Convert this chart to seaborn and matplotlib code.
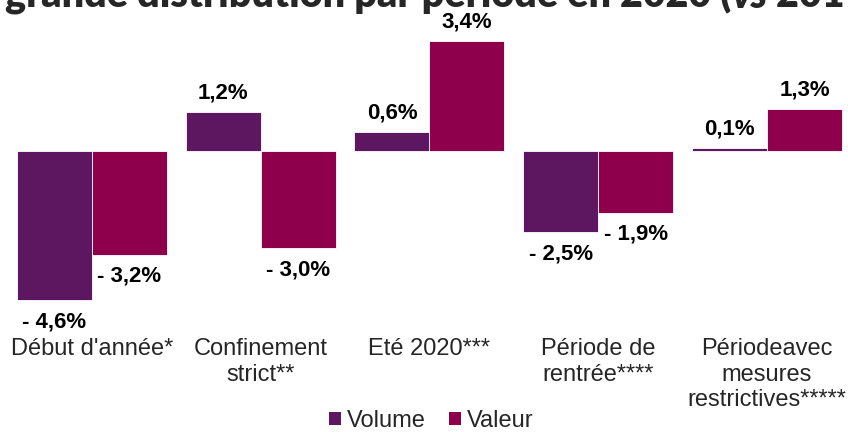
import pandas as pd
import seaborn as sns
import matplotlib
matplotlib.use("Agg")
from matplotlib import pyplot as plt
from matplotlib.patches import Patch

periodes = ["Début d'année*", "Confinement\nstrict**", "Eté 2020***",
            "Période de\nrentrée****", "Périodeavec\nmesures\nrestrictives*****"]
volume = [-4.6, 1.2, 0.6, -2.5, 0.1]
valeur = [-3.2, -3.0, 3.4, -1.9, 1.3]
series = ["Volume", "Valeur"]
couleurs = ["#5C1760", "#8F004C"]

sns.set_style("white")
plt.rcParams['font.family'] = ['Liberation Sans', 'DejaVu Sans']

df = pd.DataFrame({
    'periode': periodes * 2,
    'evolution': volume + valeur,
    'serie': [series[0]] * len(periodes) + [series[1]] * len(periodes),
})

fig = plt.figure(figsize=(8.48, 4.32), dpi=100)
ax = fig.add_axes([7.6 / 848, 102 / 432, 843.75 / 848, 330 / 432])

sns.barplot(data=df, x='periode', y='evolution', hue='serie', order=periodes,
            hue_order=series, palette=couleurs, saturation=1, width=0.889,
            edgecolor='white', linewidth=0.6, legend=False, ax=ax)

def fmt(v):
    s = f"{abs(v):.1f}".replace('.', ',') + "%"
    return "- " + s if v < 0 else s

# étiquettes : un peu plus d'écart sous les barres négatives
for cont, vals in zip(ax.containers, [volume, valeur]):
    ax.bar_label(cont, labels=[fmt(v) if v >= 0 else "" for v in vals], padding=6,
                 fontsize=16, fontweight='bold', color='black')
    ax.bar_label(cont, labels=[fmt(v) if v < 0 else "" for v in vals], padding=8,
                 fontsize=16, fontweight='bold', color='black')

ax.set_xlim(-0.5, 4.5)
ax.set_ylim(-5.525, 4.66)
ax.set_xlabel("")
ax.set_ylabel("")
ax.set_yticks([])
ax.tick_params(axis='x', length=0, pad=6, labelsize=17)
sns.despine(ax=ax, left=True, bottom=True, top=True, right=True)

handles = [Patch(facecolor=c, edgecolor='none') for c in couleurs]
fig.legend(handles, series, loc='center', bbox_to_anchor=(431 / 848, 11 / 432),
           ncol=2, frameon=False, fontsize=17, handlelength=0.5, handleheight=0.5,
           handletextpad=0.25, columnspacing=1.0, borderpad=0)

# titre coupé en haut, comme dans l'original
titre_kw = dict(fontsize=28.4, fontweight='heavy', family=['Lato', 'DejaVu Sans'],
                va='baseline', ha='left')
y_titre = 1 - 7.5 / 432
t1 = fig.text(5 / 848, y_titre, "grande distribution par période en 2020 (", **titre_kw)
fig.canvas.draw()
r = fig.canvas.get_renderer()
bb = t1.get_window_extent(r)
t2 = fig.text(bb.x1 / 848, y_titre, "vs", style='italic', **titre_kw)
bb2 = t2.get_window_extent(r)
fig.text(bb2.x1 / 848, y_titre, " 2019)", **titre_kw)

fig.savefig("out.png", dpi=100)
